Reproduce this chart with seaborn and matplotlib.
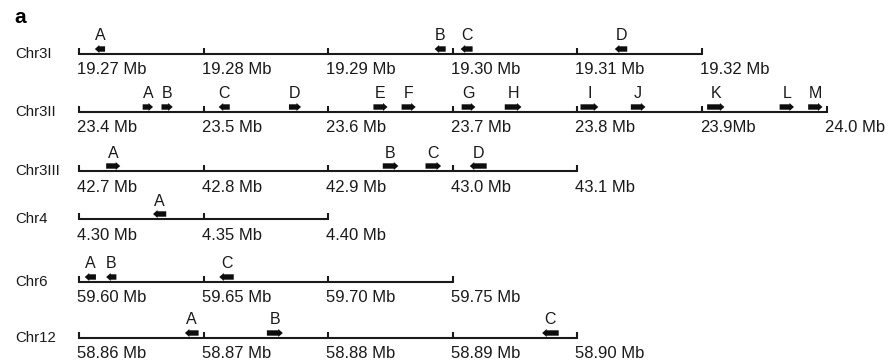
#!/usr/bin/env python
"""Gene positions along six chromosome regions (panel a)"""
import matplotlib
matplotlib.use('Agg')
import matplotlib.pyplot as plt
import numpy as np
import seaborn as sns

sns.set_theme(style='white')
plt.rcParams['font.family'] = ['Liberation Sans', 'DejaVu Sans']

# chromosome regions and their scale ticks (Mb)
chroms = ['Chr3I', 'Chr3II', 'Chr3III', 'Chr4', 'Chr6', 'Chr12']
tick_values = [
    [19.27, 19.28, 19.29, 19.30, 19.31, 19.32],
    [23.4, 23.5, 23.6, 23.7, 23.8, 23.9, 24.0],
    [42.7, 42.8, 42.9, 43.0, 43.1],
    [4.30, 4.35, 4.40],
    [59.60, 59.65, 59.70, 59.75],
    [58.86, 58.87, 58.88, 58.89, 58.90],
]
tick_labels = [
    ['19.27 Mb', '19.28 Mb', '19.29 Mb', '19.30 Mb', '19.31 Mb', '19.32 Mb'],
    ['23.4 Mb', '23.5 Mb', '23.6 Mb', '23.7 Mb', '23.8 Mb', '23.9Mb', '24.0 Mb'],
    ['42.7 Mb', '42.8 Mb', '42.9 Mb', '43.0 Mb', '43.1 Mb'],
    ['4.30 Mb', '4.35 Mb', '4.40 Mb'],
    ['59.60 Mb', '59.65 Mb', '59.70 Mb', '59.75 Mb'],
    ['58.86 Mb', '58.87 Mb', '58.88 Mb', '58.89 Mb', '58.90 Mb'],
]

# genes: name, start, end (Mb), strand (+1 forward, -1 reverse)
gene_names = [
    ['A', 'B', 'C', 'D'],
    ['A', 'B', 'C', 'D', 'E', 'F', 'G', 'H', 'I', 'J', 'K', 'L', 'M'],
    ['A', 'B', 'C', 'D'],
    ['A'],
    ['A', 'B', 'C'],
    ['A', 'B', 'C'],
]
gene_start = [
    [19.27127, 19.29854, 19.30063, 19.3130],
    [23.4511, 23.4662, 23.5121, 23.5685, 23.6363, 23.6589, 23.7071,
     23.7417, 23.8025, 23.8429, 23.9041, 23.9623, 23.9852],
    [42.7218, 42.9438, 42.9781, 43.0136],
    [4.3297],
    [59.6023, 59.6109, 59.6563],
    [58.8685, 58.87508, 58.89717],
]
gene_end = [
    [19.27209, 19.29943, 19.30159, 19.3140],
    [23.4594, 23.4752, 23.5210, 23.5782, 23.6476, 23.6702, 23.7181,
     23.7551, 23.8168, 23.8546, 23.9180, 23.9738, 23.9967],
    [42.7331, 42.9563, 42.9906, 43.0272],
    [4.3350],
    [59.6068, 59.6150, 59.6621],
    [58.8696, 58.87636, 58.8985],
]
gene_strand = [
    [-1, -1, -1, -1],
    [1, 1, -1, 1, 1, 1, 1, 1, 1, 1, 1, 1, 1],
    [1, 1, 1, -1],
    [-1],
    [-1, -1, -1],
    [-1, 1, -1],
]

# layout (pixels)
W, H = 888, 363
X0, PX_PER_STEP = 79, 124.6
ROW_Y = [54, 112, 171, 219, 282, 338]
INK = '#1a1a1a'

fig = plt.figure(figsize=(W / 100, H / 100), dpi=100)
ax = fig.add_axes([0, 0, 1, 1])
ax.set_xlim(-X0 / PX_PER_STEP, (W - X0) / PX_PER_STEP)
ax.set_ylim(H, 0)
ax.axis('off')
px = 1 / PX_PER_STEP  # one pixel in x units

ax.text(-X0 * px + 14 * px, 23, 'a', fontsize=15, fontweight='bold',
        color='black', ha='left', va='baseline')

for i, name in enumerate(chroms):
    y = ROW_Y[i]
    tv = np.array(tick_values[i])
    step = tv[1] - tv[0]
    u = (tv - tv[0]) / step

    ax.text(-X0 * px + 15 * px, y + 4, name, fontsize=10.8, color=INK,
            ha='left', va='baseline')

    # chromosome line and ticks
    ax.plot([u[0], u[-1]], [y, y], color=INK, lw=1.5, solid_capstyle='butt')
    ax.vlines(u, y - 6, y + 0.7, color=INK, lw=1.5)
    for uu, lab in zip(u, tick_labels[i]):
        ax.text(uu - 2 * px, y + 20.5, lab, fontsize=12, color=INK,
                ha='left', va='baseline')

    # genes
    for g, s, e, st in zip(gene_names[i], gene_start[i], gene_end[i], gene_strand[i]):
        us = (s - tv[0]) / step
        ue = (e - tv[0]) / step
        x_from, dx = (us, ue - us) if st > 0 else (ue, us - ue)
        ax.arrow(x_from, y - 5, dx, 0, width=5.4, head_width=8,
                 head_length=4.5 * px, length_includes_head=True,
                 color='#0d0d0d', lw=0)
        ax.text((us + ue) / 2, y - 13.5, g, fontsize=11.5, color=INK,
                ha='center', va='baseline')

fig.savefig('out.png', dpi=100)
plt.close()
